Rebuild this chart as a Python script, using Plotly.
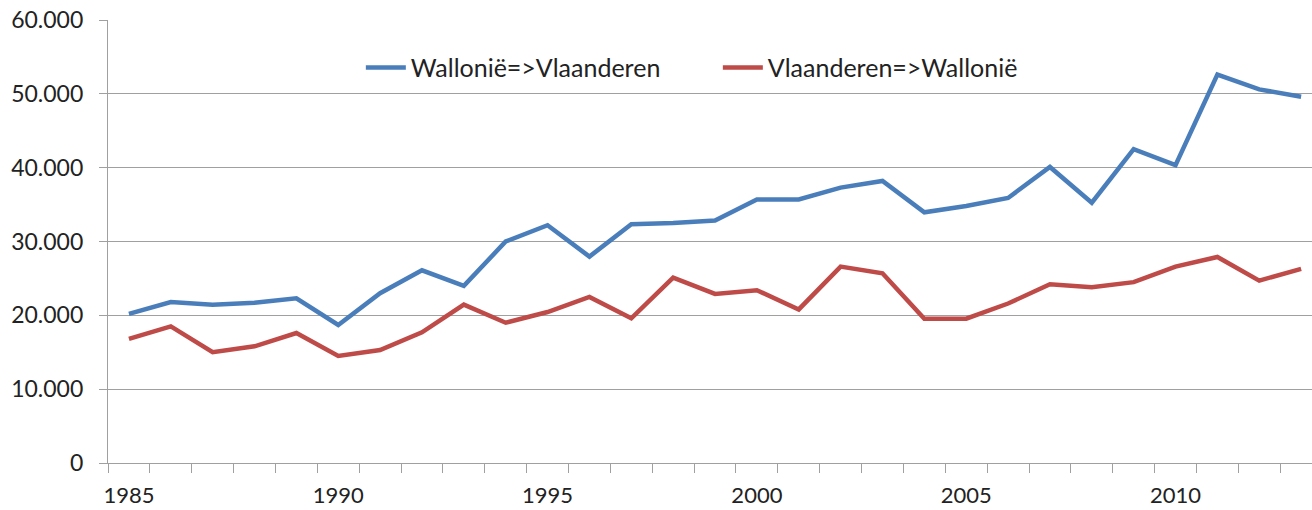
import plotly.graph_objects as go

years = list(range(1985, 2014))
wal_to_vla = [20200, 21800, 21450, 21700, 22300, 18700, 23000, 26100, 24000, 30000,
              32200, 27950, 32350, 32500, 32850, 35700, 35700, 37300, 38200, 33950,
              34800, 35900, 40100, 35250, 42500, 40350, 52600, 50600, 49600]
vla_to_wal = [16800, 18500, 15000, 15800, 17600, 14500, 15300, 17700, 21450, 19000,
              20450, 22500, 19600, 25100, 22900, 23400, 20800, 26600, 25700, 19550,
              19550, 21600, 24200, 23800, 24500, 26600, 27900, 24700, 26300]
x_labels = [1985, 1990, 1995, 2000, 2005, 2010]
y_ticks = [0, 10000, 20000, 30000, 40000, 50000, 60000]

BLUE = "#4A7EBB"
RED = "#BE4B48"
FONT = "Lato"
TXT = "#222222"
GRID = "#A0A0A0"

fig = go.Figure()
fig.add_trace(go.Scatter(x=years, y=wal_to_vla, mode="lines", name="Wallonië=>Vlaanderen",
                         line=dict(color=BLUE, width=4.5)))
fig.add_trace(go.Scatter(x=years, y=vla_to_wal, mode="lines", name="Vlaanderen=>Wallonië",
                         line=dict(color=RED, width=4.5)))

fig.update_layout(
    width=1312, height=510,
    margin=dict(l=108, r=0, t=20, b=47),
    paper_bgcolor="white", plot_bgcolor="white",
    separators=",.",
    font=dict(family=FONT, size=23, color=TXT),
    legend=dict(orientation="h", x=0.21, y=0.892, xanchor="left", yanchor="middle",
                font=dict(family=FONT, size=25, color=TXT),
                entrywidth=302, bgcolor="rgba(0,0,0,0)", itemwidth=40),
    showlegend=True,
)
fig.update_xaxes(
    range=[1984.5, 2013.26], tickvals=x_labels, ticktext=[str(v) for v in x_labels],
    ticks="", ticklabelstandoff=12, automargin=False, ticklabeloverflow="allow",
    showgrid=False, showline=True, linecolor=GRID, linewidth=1.2,
    zeroline=False, tickfont=dict(family=FONT, size=22, color=TXT),
    minor=dict(tick0=1984.5, dtick=1, ticks="outside", ticklen=9, tickcolor=GRID, tickwidth=1.2, showgrid=False),
)
fig.update_yaxes(
    range=[0, 60000], tickvals=y_ticks, tickformat=",d",
    ticks="outside", ticklen=8, tickcolor=GRID, tickwidth=1.2, ticklabelstandoff=11,
    automargin=False, ticklabeloverflow="allow",
    showgrid=True, gridcolor=GRID, gridwidth=1.2,
    showline=True, linecolor=GRID, linewidth=1.2, zeroline=False,
    tickfont=dict(family=FONT, size=23, color=TXT),
)

fig.write_html("out.html", config={"displayModeBar": False},
               post_script="document.body.style.margin='0';")
